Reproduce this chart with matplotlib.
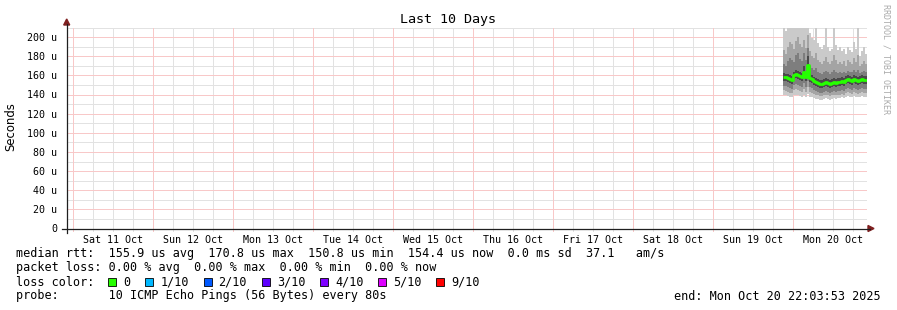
import datetime as dt
import matplotlib
matplotlib.use("Agg")
import matplotlib.pyplot as plt
from matplotlib.lines import Line2D
from matplotlib.patches import Polygon, Rectangle

# data: 10 pings per step, drawn as smoke bands + median line
t0 = dt.datetime(2025, 10, 19, 21, 0)
step = dt.timedelta(minutes=36)
median = [158, 158, 157, 156, 155, 160, 161, 160, 159, 158, 164, 158, 171, 157, 156, 154, 153, 152, 151, 151, 152,
          153, 152, 151, 152, 153, 152, 153, 153, 154, 153, 155, 156, 155, 154, 156, 155, 154, 155, 156, 155, 155]
hi1 = [212, 206, 212, 212, 212, 209, 212, 212, 212, 210, 212, 212, 212, 204, 199, 197, 212, 194, 190, 188, 192,
       212, 190, 185, 188, 212, 192, 186, 190, 185, 188, 182, 190, 186, 184, 195, 188, 212, 180, 185, 190, 182]
hi2 = [186, 182, 190, 195, 193, 188, 196, 200, 193, 190, 197, 189, 202, 185, 180, 178, 183, 176, 174, 172, 175,
       179, 174, 172, 175, 181, 176, 172, 174, 172, 175, 170, 176, 174, 172, 178, 174, 181, 170, 172, 175, 172]
hi3 = [172, 170, 175, 178, 176, 174, 181, 183, 177, 175, 183, 176, 189, 170, 168, 166, 168, 164, 162, 161, 164,
       165, 163, 161, 164, 166, 164, 162, 163, 162, 164, 162, 165, 164, 163, 166, 164, 166, 162, 163, 165, 163]
hi4 = [162, 161, 161, 160, 159, 164, 166, 165, 163, 162, 170, 163, 180, 161, 160, 158, 157, 156, 155, 155, 156,
       157, 156, 155, 156, 157, 156, 157, 157, 158, 157, 159, 160, 159, 158, 160, 159, 158, 159, 160, 159, 159]
lo4 = [154, 154, 153, 152, 151, 156, 157, 156, 155, 154, 159, 154, 162, 153, 152, 150, 149, 148, 147, 147, 148,
       149, 148, 147, 148, 149, 148, 149, 149, 150, 149, 151, 152, 151, 150, 152, 151, 150, 151, 152, 151, 151]
lo3 = [149, 149, 148, 147, 146, 150, 151, 150, 149, 148, 152, 148, 154, 148, 147, 145, 144, 143, 142, 142, 143,
       144, 143, 142, 143, 144, 143, 144, 144, 145, 144, 146, 147, 146, 145, 147, 146, 145, 146, 147, 146, 146]
lo2 = [145, 144, 143, 142, 142, 145, 146, 145, 144, 143, 146, 143, 148, 143, 142, 141, 140, 139, 138, 138, 139,
       140, 139, 138, 139, 140, 139, 140, 140, 141, 140, 142, 143, 142, 141, 143, 142, 141, 142, 143, 142, 142]
lo1 = [140, 139, 138, 137, 137, 139, 140, 139, 138, 137, 140, 137, 141, 137, 137, 136, 135, 135, 134, 134, 135,
       136, 135, 134, 135, 136, 135, 136, 136, 137, 136, 137, 138, 137, 137, 138, 137, 137, 137, 138, 137, 137]

end = dt.datetime(2025, 10, 20, 22, 3, 53)
start = end - dt.timedelta(days=10)
day_labels = ['Sat 11 Oct', 'Sun 12 Oct', 'Mon 13 Oct', 'Tue 14 Oct', 'Wed 15 Oct',
              'Thu 16 Oct', 'Fri 17 Oct', 'Sat 18 Oct', 'Sun 19 Oct', 'Mon 20 Oct']
yticks = list(range(0, 201, 20))

rtt_line = "median rtt:  155.9 us avg  170.8 us max  150.8 us min  154.4 us now  0.0 ms sd  37.1   am/s"
loss_line = "packet loss: 0.00 % avg  0.00 % max  0.00 % min  0.00 % now"
probe_line = "probe:       10 ICMP Echo Pings (56 Bytes) every 80s"
end_line = "end: Mon Oct 20 22:03:53 2025"
loss_labels = ['0', '1/10', '2/10', '3/10', '4/10', '5/10', '9/10']
loss_colors = ['#26ff00', '#00b8ff', '#0059ff', '#5e00ff', '#7e00ff', '#dd00ff', '#ff0000']

W, H = 897, 310
MONO = 'DejaVu Sans Mono'
# rrdtool's 1px dotted grid, drawn solid in its average tone
RED_GRID = '#f8c8c8'
GREY_GRID = '#e2e2e2'


def px(x, y):
    return x / W, 1 - y / H


fig = plt.figure(figsize=(W / 100, H / 100), dpi=100)
fig.patch.set_facecolor('white')
ax = fig.add_axes([67 / W, (H - 228.5) / H, 800 / W, 201 / H])

times = [t0 + step * i for i in range(len(median) + 1)]
ext = lambda a: list(a) + [a[-1]]
bands = [(lo1, hi1, '#cacaca'), (lo2, hi2, '#a4a4a4'), (lo3, hi3, '#7e7e7e'), (lo4, hi4, '#4a4a4a')]
for lo, hi, c in bands:
    ax.fill_between(times, ext(lo), ext(hi), step='post', color=c, lw=0, zorder=1)
ax.step(times, ext(median), where='post', color='#26ff00', lw=2.0, zorder=2, solid_capstyle='butt')

gkw = dict(lw=0.72, ls='-', snap=True, antialiased=False)
ax.set_yticks(yticks, ['0'] + [f'{v} u' for v in yticks[1:]])
ax.set_yticks(range(10, 211, 20), minor=True)
ax.grid(which='minor', axis='y', color=GREY_GRID, zorder=0.5, **gkw)
ax.grid(which='major', axis='y', color=RED_GRID, zorder=0.6, **gkw)
ax.set_axisbelow(True)

h = dt.datetime(2025, 10, 10, 0)
while h < end:
    if h > start:
        major = h.hour == 0
        ax.plot([h, h], [-3, 210], color=RED_GRID if major else GREY_GRID,
                zorder=0.6 if major else 0.5, clip_on=False, **gkw)
    h += dt.timedelta(hours=6)

day0 = dt.datetime(2025, 10, 11)
noons = [day0 + dt.timedelta(days=i, hours=12) for i in range(len(day_labels))]
ax.set_xlim(start, end)
ax.set_ylim(0, 210)
ax.set_xticks(noons, day_labels)
ax.tick_params(axis='both', which='both', length=0, labelsize=7.2)
ax.tick_params(axis='y', pad=7)
ax.tick_params(axis='x', pad=5)
for lab in ax.get_xticklabels() + ax.get_yticklabels():
    lab.set_fontfamily(MONO)
for s in ax.spines.values():
    s.set_visible(False)

# axes lines and arrows
fig.add_artist(Line2D([px(62, 0)[0], px(870, 0)[0]], [px(0, 228.5)[1]] * 2, color='#1f1f1f', lw=0.9))
fig.add_artist(Line2D([px(66.7, 0)[0]] * 2, [px(0, 233)[1], px(0, 24)[1]], color='#1f1f1f', lw=0.9))
fig.add_artist(Polygon([px(63.7, 25), px(69.7, 25), px(66.7, 19)], closed=True, color='#7f1f1f'))
fig.add_artist(Polygon([px(868, 225.5), px(868, 231.5), px(874, 228.5)], closed=True, color='#7f1f1f'))

# texts
fig.text(*px(448, 19), 'Last 10 Days', family=MONO, fontsize=9.6, ha='center', va='center')
fig.text(*px(11, 127), 'Seconds', fontsize=8.4, rotation=90, ha='center', va='center')
fig.text(*px(886, 4), 'RRDTOOL / TOBI OETIKER', family=MONO, fontsize=6, rotation=270,
         ha='center', va='top', color='#aaaaaa')

fs = 8.5
fig.text(*px(16, 254), rtt_line, family=MONO, fontsize=fs, va='center')
fig.text(*px(16, 268), loss_line, family=MONO, fontsize=fs, va='center')
fig.text(*px(16, 282), 'loss color:', family=MONO, fontsize=fs, va='center')
fig.text(*px(16, 296), probe_line, family=MONO, fontsize=fs, va='center')
fig.text(*px(881, 296), end_line, family=MONO, fontsize=fs, va='center', ha='right')

bx = 108.3
for lab, c in zip(loss_labels, loss_colors):
    x0, y0 = px(bx, 286)
    fig.add_artist(Rectangle((x0, y0), 8 / W, 8 / H, facecolor=c, edgecolor='black', lw=0.6))
    fig.text(*px(bx + 15, 282), lab, family=MONO, fontsize=fs, va='center')
    bx += 15 + 7.05 * len(lab) + 15

fig.savefig('out.png', dpi=100)
